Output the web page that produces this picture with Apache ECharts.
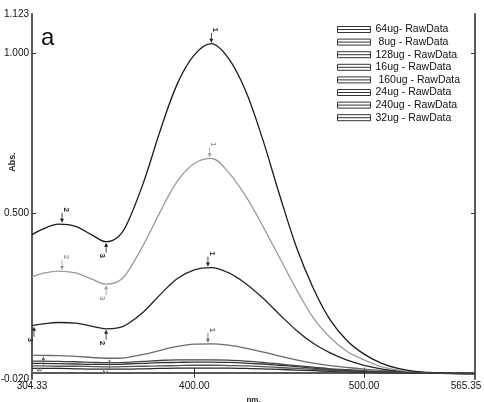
<!DOCTYPE html>
<html>
<head>
<meta charset="utf-8">
<script src="https://cdn.jsdelivr.net/npm/echarts@6/dist/echarts.min.js"></script>
<style>html,body{margin:0;padding:0;background:#fff;}#c{width:484px;height:402px;}</style>
</head>
<body>
<div id="c"></div>
<script>
// Wavelength samples (nm)
const wl = [304.33,310,320,330,340,348,355,360,370,380,390,400,410,420,430,440,450,460,470,480,490,500,510,520,530,540,550,565.35];
// Absorbance per concentration
const s64  = [0.055,0.054,0.053,0.051,0.047,0.045,0.045,0.047,0.057,0.070,0.082,0.089,0.090,0.086,0.077,0.065,0.052,0.040,0.030,0.022,0.016,0.011,0.007,0.004,0.001,0.000,-0.001,-0.002];
const s8   = [0.013,0.013,0.013,0.012,0.011,0.011,0.011,0.011,0.012,0.013,0.014,0.014,0.014,0.014,0.013,0.012,0.010,0.008,0.006,0.004,0.002,0.001,0.000,-0.001,-0.002,-0.002,-0.003,-0.003];
const s128 = [0.147,0.152,0.157,0.155,0.145,0.137,0.140,0.150,0.190,0.245,0.295,0.322,0.329,0.313,0.280,0.235,0.183,0.133,0.092,0.062,0.039,0.023,0.012,0.005,0.001,-0.001,-0.002,-0.003];
const s16  = [0.021,0.021,0.020,0.020,0.019,0.018,0.018,0.019,0.020,0.021,0.022,0.023,0.023,0.022,0.021,0.019,0.016,0.013,0.010,0.007,0.005,0.003,0.001,0.000,-0.001,-0.002,-0.002,-0.003];
const s160 = [0.300,0.310,0.318,0.312,0.292,0.277,0.285,0.310,0.400,0.505,0.600,0.655,0.671,0.628,0.555,0.462,0.362,0.262,0.172,0.110,0.066,0.040,0.019,0.008,0.002,-0.001,-0.002,-0.003];
const s24  = [0.029,0.029,0.028,0.027,0.026,0.026,0.026,0.027,0.029,0.031,0.032,0.033,0.033,0.032,0.030,0.027,0.023,0.019,0.014,0.010,0.007,0.004,0.002,0.000,-0.001,-0.002,-0.002,-0.003];
const s240 = [0.432,0.448,0.465,0.458,0.430,0.410,0.425,0.462,0.595,0.760,0.905,0.995,1.030,0.985,0.885,0.735,0.560,0.395,0.265,0.165,0.100,0.058,0.030,0.013,0.004,0.000,-0.002,-0.003];
const s32  = [0.036,0.036,0.035,0.034,0.032,0.031,0.031,0.032,0.035,0.038,0.040,0.040,0.040,0.039,0.036,0.032,0.027,0.022,0.017,0.012,0.009,0.006,0.003,0.001,0.000,-0.001,-0.002,-0.002];

const names = ['64ug- RawData',' 8ug - RawData','128ug - RawData','16ug - RawData',' 160ug - RawData','24ug - RawData','240ug - RawData','32ug - RawData'];
const values = [s64, s8, s128, s16, s160, s24, s240, s32];
const colors = ['#6a6a6a','#2a2a2a','#222','#555','#9a9a9a','#333','#1a1a1a','#444'];

// Peak-pick annotations: [nm, abs, label, side]
const ann64  = [[408,0.090,'1','up'],[311,0.054,'3','down'],[350,0.045,'2','down']];
const ann128 = [[408,0.329,'1','up'],[305.5,0.147,'3','down'],[348,0.137,'2','down']];
const ann160 = [[409,0.671,'1','up'],[322,0.318,'2','up'],[348,0.277,'3','down']];
const ann240 = [[410,1.030,'1','up'],[322,0.466,'2','up'],[348,0.410,'3','down']];
const annBy = {0: ann64, 2: ann128, 4: ann160, 6: ann240};

const xLabels = [304.33, 400, 500, 565.35];
const yLabels = [-0.02, 0.5, 1.0, 1.123];
const xTicks = [400, 500];
const yTicks = [0.5, 1.0];

const arrowDown = 'path://M1.6,0H2.4V7H1.6Z M0,6H4L2,10Z';
const arrowUp = 'path://M2,0L4,4H0Z M1.6,3H2.4V10H1.6Z';

function markFor(i) {
  const a = annBy[i];
  if (!a) return undefined;
  return {
    silent: true,
    animation: false,
    data: a.map(d => ({
      coord: [d[0], d[1]],
      symbol: d[3] === 'up' ? arrowDown : arrowUp,
      symbolSize: [4, 10],
      symbolKeepAspect: false,
      symbolOffset: [0, d[3] === 'up' ? -6 : 6],
      itemStyle: {color: colors[i]},
      label: {
        show: true, formatter: d[2], rotate: -90,
        position: d[3] === 'up' ? 'top' : 'bottom', distance: 3,
        fontSize: 8, color: colors[i], fontFamily: 'Liberation Sans', fontWeight: 'bold'
      }
    }))
  };
}

const series = names.map((n, i) => ({
  name: n, type: 'line', xAxisIndex: 0, yAxisIndex: 0,
  data: wl.map((x, k) => [x, values[i][k]]),
  smooth: 0.35, showSymbol: false, symbol: 'none',
  lineStyle: {color: colors[i], width: 1.3},
  itemStyle: {color: colors[i]},
  animation: false,
  markPoint: markFor(i)
}));

const axisLineStyle = {color: '#5a5a5a', width: 2};
const labelFont = {fontFamily: 'Liberation Sans', fontSize: 10, color: '#111'};

const chart = echarts.init(document.getElementById('c'), null, {renderer: 'canvas'});
chart.setOption({
  backgroundColor: '#fff',
  animation: false,
  grid: {left: 32, right: 9, top: 14, bottom: 23, outerBoundsMode: 'none', containLabel: false},
  legend: {
    orient: 'vertical', left: 337, top: 24, padding: 0,
    icon: 'path://M0,0H33V6H0Z M0,3H33',
    itemWidth: 33, itemHeight: 6, itemGap: 1.6,
    itemStyle: {color: '#fff', borderColor: '#333', borderWidth: 1},
    textStyle: {fontFamily: 'Liberation Sans', fontSize: 10.5, color: '#111', lineHeight: 11},
    selectedMode: false
  },
  xAxis: [{
    type: 'value', min: 304.33, max: 565.35, position: 'bottom',
    name: 'nm.', nameLocation: 'middle', nameGap: 12,
    nameTextStyle: {fontFamily: 'Liberation Sans', fontSize: 8, fontWeight: 'bold', color: '#222'},
    axisLine: {show: true, lineStyle: axisLineStyle},
    axisTick: {show: true, inside: true, length: 5, customValues: xTicks, lineStyle: {color: '#333', width: 1}},
    axisLabel: Object.assign({
      customValues: xLabels, margin: 2,
      formatter: v => v === 565.35 ? '{r|' + v.toFixed(2) + '}' : v.toFixed(2),
      rich: {r: Object.assign({padding: [0, 18, 0, 0]}, labelFont)}
    }, labelFont),
    splitLine: {show: false}
  }, {
    type: 'value', min: 304.33, max: 565.35, position: 'top',
    axisLine: {show: true, lineStyle: axisLineStyle},
    axisTick: {show: true, inside: true, length: 5, customValues: xTicks, lineStyle: {color: '#333', width: 1}},
    axisLabel: {show: false}, splitLine: {show: false}
  }],
  yAxis: [{
    type: 'value', min: -0.02, max: 1.123, position: 'left',
    axisLine: {show: true, lineStyle: axisLineStyle},
    axisTick: {show: true, inside: true, length: 4, customValues: yTicks, lineStyle: {color: '#333', width: 1}},
    axisLabel: Object.assign({customValues: yLabels, margin: 3, formatter: v => v.toFixed(3)}, labelFont),
    splitLine: {show: false}
  }, {
    type: 'value', min: -0.02, max: 1.123, position: 'right',
    axisLine: {show: true, lineStyle: axisLineStyle},
    axisTick: {show: true, inside: true, length: 4, customValues: yTicks, lineStyle: {color: '#333', width: 1}},
    axisLabel: {show: false}, splitLine: {show: false}
  }],
  graphic: [
    {type: 'text', x: 41, y: 26, style: {text: 'a', font: '24px "Liberation Sans"', fill: '#111'}},
    {type: 'text', x: 13, y: 162, rotation: Math.PI / 2,
     style: {text: 'Abs.', font: 'bold 9px "Liberation Sans"', fill: '#222', textAlign: 'center', textVerticalAlign: 'middle'}}
  ],
  series: series
});
</script>
</body>
</html>
